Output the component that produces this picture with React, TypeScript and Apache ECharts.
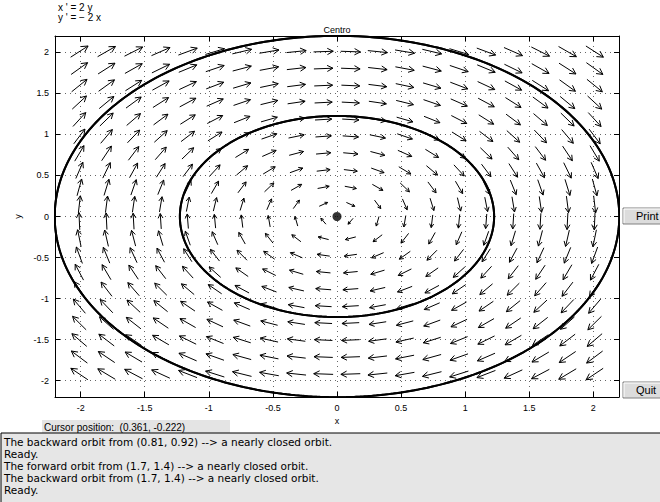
import React, { useEffect, useRef } from 'react';
import * as echarts from 'echarts';

// ---------- data ----------
const equationLines = ["x ' = 2 y", "y ' = − 2 x"];
const chartTitle = 'Centro';
const xTicks = [-2, -1.5, -1, -0.5, 0, 0.5, 1, 1.5, 2];
const yTicks = [-2, -1.5, -1, -0.5, 0, 0.5, 1, 1.5, 2];
// direction-field sample points (arrow centres)
const xGrid = [-2.01, -1.798, -1.587, -1.375, -1.164, -0.952, -0.741, -0.529, -0.317, -0.106,
  0.106, 0.317, 0.529, 0.741, 0.952, 1.164, 1.375, 1.587, 1.798, 2.01];
const yGrid = [-1.92, -1.713, -1.506, -1.299, -1.093, -0.886, -0.679, -0.472, -0.265, -0.058,
  0.148, 0.355, 0.562, 0.769, 0.976, 1.182, 1.389, 1.596, 1.803, 2.01];
// system x' = a*y, y' = b*x
const coefA = 2;
const coefB = -2;
// orbit start points
const orbitStarts = [[0.81, 0.92], [1.7, 1.4]];
const equilibria = [[0, 0]];
const cursorText = 'Cursor position:  (0.361, -0.222)';
const messages = [
  'The backward orbit from (0.81, 0.92) --> a nearly closed orbit.',
  'Ready.',
  'The forward orbit from (1.7, 1.4) --> a nearly closed orbit.',
  'The backward orbit from (1.7, 1.4) --> a nearly closed orbit.',
  'Ready.',
];
const buttons = ['Print', 'Quit'];

const FONT = "'Liberation Sans', Arial, Helvetica, sans-serif";
const PANEL_FONT = "'DejaVu Sans', 'Liberation Sans', Arial, sans-serif";

function field(x: number, y: number): [number, number] {
  return [coefA * y, coefB * x];
}

function integrate(start: number[], dir: number): number[][] {
  const pts: number[][] = [];
  let x = start[0];
  let y = start[1];
  const steps = 420;
  const dt = (dir * Math.PI * 1.02) / steps;
  pts.push([x, y]);
  for (let i = 0; i < steps; i++) {
    const k1 = field(x, y);
    const k2 = field(x + (dt / 2) * k1[0], y + (dt / 2) * k1[1]);
    const k3 = field(x + (dt / 2) * k2[0], y + (dt / 2) * k2[1]);
    const k4 = field(x + dt * k3[0], y + dt * k3[1]);
    x += (dt / 6) * (k1[0] + 2 * k2[0] + 2 * k3[0] + k4[0]);
    y += (dt / 6) * (k1[1] + 2 * k2[1] + 2 * k3[1] + k4[1]);
    pts.push([x, y]);
  }
  return pts;
}

export default function App() {
  const ref = useRef<HTMLDivElement>(null);
  useEffect(() => {
    if (!ref.current) return;
    const chart = echarts.init(ref.current, undefined, { renderer: 'svg' });

    const arrowData: number[][] = [];
    for (const y of yGrid) for (const x of xGrid) arrowData.push([x, y]);

    const orbitSeries: any[] = [];
    orbitStarts.forEach((s) => {
      [1, -1].forEach((dir) => {
        orbitSeries.push({
          type: 'line',
          data: integrate(s, dir),
          showSymbol: false,
          symbol: 'none',
          lineStyle: { color: '#000', width: 2 },
          silent: true,
          clip: true,
          z: 3,
        });
      });
    });

    const axisCommon = {
      type: 'value',
      min: -2.2,
      max: 2.2,
      axisLine: { show: true, onZero: false, lineStyle: { color: '#000', width: 1 } },
    };

    const graphics: any[] = [];
    equationLines.forEach((t, i) => {
      graphics.push({
        type: 'text', x: 58, y: 7 + i * 10,
        style: { text: t, fontSize: 10, lineHeight: 10, fontFamily: FONT, fill: '#000', verticalAlign: 'middle' },
      });
    });
    graphics.push({
      type: 'text', x: 337, y: 30,
      style: { text: chartTitle, fontSize: 9, fontFamily: FONT, fill: '#000', align: 'center', verticalAlign: 'middle' },
    });
    const btnY = [208, 382];
    buttons.forEach((b, i) => {
      graphics.push({
        type: 'rect', shape: { x: 623, y: btnY[i], width: 60, height: 16 },
        style: { fill: '#dcdcdc', stroke: '#808080', lineWidth: 1 },
      });
      graphics.push({
        type: 'polyline', shape: { points: [[624, btnY[i] + 15], [624, btnY[i] + 1], [660, btnY[i] + 1]] },
        style: { stroke: '#ffffff', lineWidth: 1, fill: null },
      });
      graphics.push({
        type: 'text', x: 636, y: btnY[i] + 8,
        style: { text: b, fontSize: 11, fontFamily: FONT, fill: '#000', verticalAlign: 'middle' },
      });
    });
    graphics.push({
      type: 'rect', shape: { x: 42, y: 420, width: 188, height: 13 },
      style: { fill: '#e4e4e4' },
    });
    graphics.push({
      type: 'text', x: 44, y: 427,
      style: { text: cursorText, fontSize: 10, lineHeight: 11, fontFamily: FONT, fill: '#000', verticalAlign: 'middle' },
    });
    graphics.push({
      type: 'rect', shape: { x: 1, y: 433, width: 670, height: 80 },
      style: { fill: '#e6e6e6', stroke: '#000', lineWidth: 1 },
    });
    messages.forEach((m, i) => {
      graphics.push({
        type: 'text', x: 4, y: 441.5 + i * 12,
        style: { text: m, fontSize: 10.5, lineHeight: 11, fontFamily: PANEL_FONT, fill: '#000', verticalAlign: 'middle' },
      });
    });

    chart.setOption({
      animation: false,
      backgroundColor: '#fff',
      textStyle: { fontFamily: FONT },
      grid: { left: 55, top: 36, width: 564, height: 361, containLabel: false, show: false },
      xAxis: [
        {
          ...axisCommon,
          position: 'bottom',
          axisTick: { show: true, inside: true, length: 5, customValues: xTicks, lineStyle: { color: '#000' } },
          axisLabel: { customValues: xTicks, fontSize: 9, color: '#000', margin: 6, fontFamily: FONT },
          splitLine: { show: true, lineStyle: { color: '#666', type: [1, 4], width: 1 } },
          name: 'x', nameLocation: 'middle', nameGap: 16,
          nameTextStyle: { fontSize: 9, color: '#000', fontFamily: FONT },
        },
        {
          ...axisCommon,
          position: 'top',
          axisTick: { show: true, inside: true, length: 5, customValues: xTicks, lineStyle: { color: '#000' } },
          axisLabel: { show: false },
          splitLine: { show: false },
        },
      ],
      yAxis: [
        {
          ...axisCommon,
          position: 'left',
          axisTick: { show: true, inside: true, length: 5, customValues: yTicks, lineStyle: { color: '#000' } },
          axisLabel: { customValues: yTicks, fontSize: 9, color: '#000', margin: 6, fontFamily: FONT },
          splitLine: { show: true, lineStyle: { color: '#666', type: [1, 4], width: 1 } },
          name: 'y', nameLocation: 'middle', nameGap: 30, nameRotate: 90,
          nameTextStyle: { fontSize: 9, color: '#000', fontFamily: FONT },
        },
        {
          ...axisCommon,
          position: 'right',
          axisTick: { show: true, inside: true, length: 5, customValues: yTicks, lineStyle: { color: '#000' } },
          axisLabel: { show: false },
          splitLine: { show: false },
        },
      ],
      series: [
        {
          type: 'custom',
          data: arrowData,
          silent: true,
          z: 2,
          renderItem: (params: any, api: any) => {
            const x = api.value(0);
            const y = api.value(1);
            const v = field(x, y);
            const eps = 1e-3;
            const p0 = api.coord([x, y]);
            const p1 = api.coord([x + v[0] * eps, y + v[1] * eps]);
            const dx = (p1[0] - p0[0]) / eps;
            const dy = (p1[1] - p0[1]) / eps;
            const m = Math.sqrt(dx * dx + dy * dy);
            if (m === 0) return { type: 'group', children: [] };
            const ux = dx / m;
            const uy = dy / m;
            const L = 20.5 * Math.pow(m / 590, 0.3);
            const tail = [p0[0] - (ux * L) / 2, p0[1] - (uy * L) / 2];
            const tip = [p0[0] + (ux * L) / 2, p0[1] + (uy * L) / 2];
            const h = Math.max(3, 0.34 * L);
            const ang = (28 * Math.PI) / 180;
            const c = Math.cos(ang);
            const s = Math.sin(ang);
            const bx = -ux;
            const by = -uy;
            const l1 = [tip[0] + h * (bx * c - by * s), tip[1] + h * (bx * s + by * c)];
            const l2 = [tip[0] + h * (bx * c + by * s), tip[1] + h * (-bx * s + by * c)];
            return {
              type: 'group',
              children: [
                { type: 'polyline', shape: { points: [tail, tip] }, style: { stroke: '#000', lineWidth: 1, fill: null } },
                { type: 'polyline', shape: { points: [l1, tip, l2] }, style: { stroke: '#000', lineWidth: 1, fill: null } },
              ],
            };
          },
        },
        ...orbitSeries,
        {
          type: 'scatter',
          data: equilibria,
          symbol: 'circle',
          symbolSize: 9,
          itemStyle: { color: '#000' },
          silent: true,
          z: 4,
        },
      ],
      graphic: graphics,
    });

    return () => chart.dispose();
  }, []);

  return <div ref={ref} style={{ position: 'fixed', left: 0, top: 0, width: 660, height: 502 }} />;
}
